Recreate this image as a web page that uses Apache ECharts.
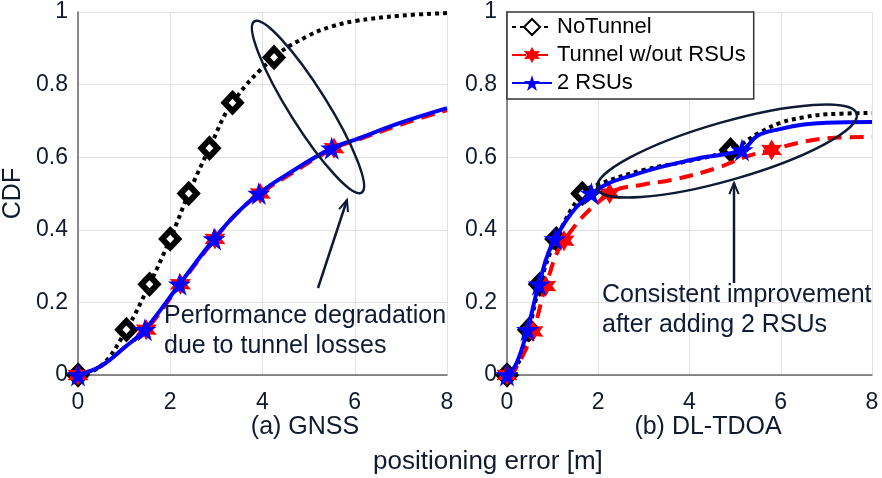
<!DOCTYPE html>
<html>
<head>
<meta charset="utf-8">
<script src="https://cdn.jsdelivr.net/npm/echarts@6/dist/echarts.min.js"></script>
<style>
  html, body { margin: 0; padding: 0; background: #fff; }
  #chart { width: 882px; height: 478px; }
</style>
</head>
<body>
<div id="chart"></div>
<script>
// 图例名称
const seriesNames = ['NoTunnel', 'Tunnel w/out RSUs', '2 RSUs']
const xTicks = [0, 2, 4, 6, 8]
const yTicks = [0, 0.2, 0.4, 0.6, 0.8, 1]

// (a) GNSS —— 曲线点与标记点
const gnssNoTunnelX = [0.5, 5.0, 5.5, 6.0, 7.0, 8.0]
const gnssNoTunnelY = [0.025, 0.935, 0.96, 0.975, 0.99, 0.997]
const gnssNoTunnelMarkX = [0, 1.05, 1.55, 2.0, 2.4, 2.85, 3.35, 4.25]
const gnssNoTunnelMarkY = [0, 0.125, 0.25, 0.375, 0.5, 0.625, 0.75, 0.875]

const gnssTunnelX = [0.5, 1.0, 3.4, 4.5, 6.0, 7.0, 8.0]
const gnssTunnelY = [0.025, 0.075, 0.44, 0.545, 0.645, 0.69, 0.73]
const gnssTunnelMarkX = [0, 1.48, 2.22, 2.97, 3.95, 5.55]
const gnssTunnelMarkY = [0, 0.125, 0.25, 0.375, 0.5, 0.625]

const gnssRsuX = [0.5, 1.0, 3.4, 4.5, 6.0, 7.0, 8.0]
const gnssRsuY = [0.025, 0.075, 0.44, 0.55, 0.648, 0.695, 0.735]
const gnssRsuMarkX = [0, 1.45, 2.2, 2.95, 3.92, 5.5]
const gnssRsuMarkY = [0, 0.125, 0.25, 0.375, 0.5, 0.625]

// (b) DL-TDOA
const tdoaNoTunnelX = [0.2, 2.0, 3.0, 4.0, 5.5, 6.0, 6.5, 7.0, 8.0]
const tdoaNoTunnelY = [0.02, 0.525, 0.565, 0.59, 0.665, 0.695, 0.71, 0.718, 0.722]
const tdoaNoTunnelMarkX = [0, 0.48, 0.72, 1.08, 1.65, 4.9]
const tdoaNoTunnelMarkY = [0, 0.125, 0.25, 0.375, 0.5, 0.62]

const tdoaTunnelX = [0.2, 3.0, 3.6, 4.6, 5.2, 6.4, 7.0, 8.0]
const tdoaTunnelY = [0.02, 0.525, 0.537, 0.57, 0.6, 0.64, 0.652, 0.656]
const tdoaTunnelMarkX = [0, 0.57, 0.85, 1.25, 2.25, 5.8]
const tdoaTunnelMarkY = [0, 0.12, 0.245, 0.37, 0.5, 0.62]

const tdoaRsuX = [0.2, 2.9, 4.2, 5.5, 6.0, 6.5, 7.0, 8.0]
const tdoaRsuY = [0.03, 0.556, 0.597, 0.66, 0.678, 0.69, 0.695, 0.697]
const tdoaRsuMarkX = [0, 0.45, 0.7, 1.05, 1.85, 5.15]
const tdoaRsuMarkY = [0, 0.125, 0.25, 0.375, 0.5, 0.62]

const TEXT = '#111a2e'
const NAVY = '#0f1a35'
const FONT = 'Liberation Sans'
const PENTAGRAM = 'path://M50,0 L61.2,34.5 L97.6,34.5 L68.2,55.9 L79.4,90.5 L50,69.1 L20.6,90.5 L31.8,55.9 L2.4,34.5 L38.8,34.5 Z'
const HEXAGRAM = 'path://M50,0 L63.5,26.6 L93.3,25 L77,50 L93.3,75 L63.5,73.4 L50,100 L36.5,73.4 L6.7,75 L23,50 L6.7,25 L36.5,26.6 Z'

// 合并曲线点和标记点（标记点显示符号）
function build(cx, cy, mx, my) {
  const pts = []
  cx.forEach((x, i) => pts.push({ value: [x, cy[i]], symbol: 'none' }))
  mx.forEach((x, i) => pts.push({ value: [x, my[i]] }))
  pts.sort((a, b) => a.value[0] - b.value[0])
  return pts
}

const styles = [
  {
    symbol: 'diamond', symbolSize: [16, 17],
    itemStyle: { color: '#fff', borderColor: '#000', borderWidth: 6 },
    lineStyle: { color: '#000', width: 4, type: [4, 4] },
  },
  {
    symbol: HEXAGRAM, symbolSize: 21,
    itemStyle: { color: '#ff0000' },
    lineStyle: { color: '#ff0000', width: 4, type: [14, 8] },
  },
  {
    symbol: PENTAGRAM, symbolSize: 23,
    itemStyle: { color: '#0000ff' },
    lineStyle: { color: '#0000ff', width: 4, type: 'solid' },
  },
]

function makeSeries(idx, panel, data) {
  return Object.assign({
    name: seriesNames[idx],
    type: 'line',
    xAxisIndex: panel,
    yAxisIndex: panel,
    smooth: 0.4,
    showSymbol: true,
    data: data,
    animation: false,
    z: 2 + idx,
  }, styles[idx])
}

function xAxisOpt(gridIndex) {
  return {
    type: 'value', gridIndex, min: 0, max: 8, interval: 2,
    axisLine: { lineStyle: { color: '#666', width: 1.5 } },
    axisTick: { show: false },
    axisLabel: { color: TEXT, fontSize: 23, margin: 16, fontFamily: FONT },
    splitLine: { lineStyle: { color: '#e3e3e3', width: 1 } },
  }
}

function yAxisOpt(gridIndex, name) {
  return {
    type: 'value', gridIndex, min: 0, max: 1, interval: 0.2,
    name, nameLocation: 'middle', nameGap: 52,
    nameTextStyle: { color: TEXT, fontSize: 25, fontFamily: FONT },
    axisLine: { show: true, lineStyle: { color: '#666', width: 1.5 } },
    axisTick: { show: false },
    axisLabel: { color: TEXT, fontSize: 23, margin: 10, fontFamily: FONT },
    splitLine: { lineStyle: { color: '#e3e3e3', width: 1 } },
  }
}

// 箭头（线 + 箭头）
function arrow(x1, y1, x2, y2) {
  const ang = Math.atan2(y2 - y1, x2 - x1)
  const len = 12, spread = 0.4
  const p1 = [x2 - len * Math.cos(ang - spread), y2 - len * Math.sin(ang - spread)]
  const p2 = [x2 - len * Math.cos(ang + spread), y2 - len * Math.sin(ang + spread)]
  return [
    { type: 'line', shape: { x1, y1, x2, y2 }, style: { stroke: NAVY, lineWidth: 2.5 }, z: 100 },
    { type: 'polyline', shape: { points: [p1, [x2, y2], p2] }, style: { stroke: NAVY, lineWidth: 2, fill: 'none' }, z: 100 },
  ]
}

function label(text, x, y, size, align) {
  return {
    type: 'text', x, y, z: 100,
    style: { text, fill: TEXT, fontSize: size, fontFamily: FONT, align: align || 'center', verticalAlign: 'middle' },
  }
}

const chart = echarts.init(document.getElementById('chart'))

const option = {
  backgroundColor: '#fff',
  animation: false,
  grid: [
    { left: 78, right: 435, top: 12, bottom: 103 },
    { left: 507, right: 10, top: 12, bottom: 103 },
  ],
  xAxis: [xAxisOpt(0), xAxisOpt(1)],
  yAxis: [yAxisOpt(0, 'CDF'), yAxisOpt(1, '')],
  legend: {
    data: seriesNames,
    orient: 'vertical',
    left: 507, top: 12,
    backgroundColor: '#fff',
    borderColor: '#333', borderWidth: 1.5, borderRadius: 0,
    padding: [4, 8, 5, 4],
    itemGap: 6,
    itemWidth: 40, itemHeight: 20,
    textStyle: { color: '#000', fontSize: 22, fontFamily: FONT },
  },
  graphic: [
    {
      type: 'ellipse', x: 308, y: 107, rotation: 0.56,
      shape: { cx: 0, cy: 0, rx: 19, ry: 101 },
      style: { fill: 'none', stroke: NAVY, lineWidth: 2.5 }, z: 100,
    },
    {
      type: 'ellipse', x: 727, y: 151, rotation: 0.28,
      shape: { cx: 0, cy: 0, rx: 135, ry: 29 },
      style: { fill: 'none', stroke: NAVY, lineWidth: 2.5 }, z: 100,
    },
    ...arrow(318, 288, 347, 200),
    ...arrow(734, 283, 734, 183),
    {
      type: 'text', left: 164, top: 301, z: 100,
      style: { text: 'Performance degradation\ndue to tunnel losses', fill: NAVY, fontSize: 25, lineHeight: 30, fontFamily: FONT },
    },
    {
      type: 'text', left: 602, top: 280, z: 100,
      style: { text: 'Consistent improvement\nafter adding 2 RSUs', fill: NAVY, fontSize: 25, lineHeight: 30, fontFamily: FONT },
    },
    label('(a) GNSS', 305, 427, 25),
    label('(b) DL-TDOA', 708, 427, 25),
    label('positioning error [m]', 373, 462, 26, 'left'),
  ],
  series: [
    makeSeries(0, 0, build(gnssNoTunnelX, gnssNoTunnelY, gnssNoTunnelMarkX, gnssNoTunnelMarkY)),
    makeSeries(1, 0, build(gnssTunnelX, gnssTunnelY, gnssTunnelMarkX, gnssTunnelMarkY)),
    makeSeries(2, 0, build(gnssRsuX, gnssRsuY, gnssRsuMarkX, gnssRsuMarkY)),
    makeSeries(0, 1, build(tdoaNoTunnelX, tdoaNoTunnelY, tdoaNoTunnelMarkX, tdoaNoTunnelMarkY)),
    makeSeries(1, 1, build(tdoaTunnelX, tdoaTunnelY, tdoaTunnelMarkX, tdoaTunnelMarkY)),
    makeSeries(2, 1, build(tdoaRsuX, tdoaRsuY, tdoaRsuMarkX, tdoaRsuMarkY)),
  ],
}

chart.setOption(option)
window.addEventListener('resize', () => chart.resize())
</script>
</body>
</html>
